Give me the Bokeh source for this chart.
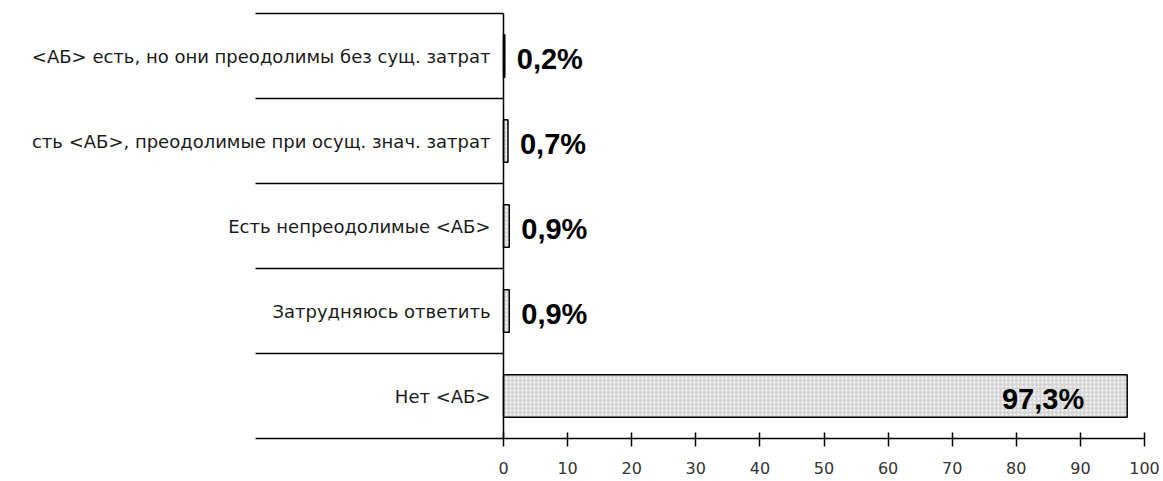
from bokeh.plotting import figure
from bokeh.models import Range1d, FixedTicker, ColumnDataSource
from bokeh.core.properties import value
from bokeh.embed import file_html
from bokeh.resources import INLINE

# ---- data ----
categories = [
    "<АБ> есть, но они преодолимы без сущ. затрат",
    "сть <АБ>, преодолимые при осущ. знач. затрат",
    "Есть непреодолимые <АБ>",
    "Затрудняюсь ответить",
    "Нет <АБ>",
]
values = [0.2, 0.7, 0.9, 0.9, 97.3]
value_labels = ["0,2%", "0,7%", "0,9%", "0,9%", "97,3%"]
x_ticks = [0, 10, 20, 30, 40, 50, 60, 70, 80, 90, 100]

# ---- geometry ----
W, H = 1163, 481
ZERO_PX = 503.0          # canvas px of x=0
PPU = 6.41               # px per unit
LINE_LEFT_PX = 255.0     # left end of category lines
TOP_PAD_PX = 13.0
BOTTOM_PANEL = 43
n = len(categories)
frame_h = H - BOTTOM_PANEL
row_px = (frame_h - TOP_PAD_PX) / n

x_start = -ZERO_PX / PPU
x_end = (W - ZERO_PX) / PPU
x_line_left = (LINE_LEFT_PX - ZERO_PX) / PPU
y_bottom = -0.5
y_top = n - 0.5 + TOP_PAD_PX / row_px

FONT = "Liberation Sans"
WIDE = "DejaVu Sans"

ypos = [n - 1 - i for i in range(n)]

p = figure(width=W, height=H, output_backend="svg", toolbar_location=None,
           x_range=Range1d(x_start, x_end), y_range=Range1d(y_bottom, y_top),
           min_border_left=0, min_border_right=0, min_border_top=0,
           min_border_bottom=BOTTOM_PANEL)
p.outline_line_color = None
p.background_fill_color = "white"
p.border_fill_color = "white"
p.grid.visible = False
p.yaxis.visible = False

xa = p.xaxis[0]
xa.ticker = FixedTicker(ticks=x_ticks)
xa.bounds = (x_line_left, 100)
xa.axis_line_color = "#000000"
xa.axis_line_width = 1.5
xa.major_tick_line_color = "#000000"
xa.major_tick_line_width = 1.5
xa.major_tick_in = 6
xa.major_tick_out = 8
xa.minor_tick_line_color = None
xa.major_label_standoff = 15
xa.major_label_text_font = WIDE
xa.major_label_text_font_size = "16px"
xa.major_label_text_color = "#333333"

# bars
src = ColumnDataSource(dict(y=ypos, v=values, lab=value_labels, cat=categories))
p.hbar(y="y", left=0, right="v", height=0.5, source=src,
       fill_color="#d6d6d6", hatch_pattern="dot", hatch_color="white",
       hatch_scale=4, hatch_weight=1.3,
       line_color="#000000", line_width=1.5)

# category separator lines (left of the value axis)
bounds_y = [n - 0.5 - i for i in range(n)]
p.segment(x0=[x_line_left] * n, y0=bounds_y, x1=[0] * n, y1=bounds_y,
          line_color="#000000", line_width=1.5)
# vertical value-axis line
p.segment(x0=[0], y0=[y_bottom], x1=[0], y1=[n - 0.5],
          line_color="#000000", line_width=1.5)

# category labels
p.text(x=0, y="y", text="cat", source=src, x_offset=-13,
       text_align="right", text_baseline="middle",
       text_font=value(WIDE), text_font_size="18px", text_color="#1a1a1a")

# value labels
small = [i for i in range(n) if values[i] < 50]
big = [i for i in range(n) if values[i] >= 50]
src_small = ColumnDataSource(dict(y=[ypos[i] for i in small], v=[values[i] for i in small],
                                  lab=[value_labels[i] for i in small]))
src_big = ColumnDataSource(dict(y=[ypos[i] for i in big], v=[values[i] for i in big],
                                lab=[value_labels[i] for i in big]))
p.text(x="v", y="y", text="lab", source=src_small, x_offset=12, y_offset=3,
       text_align="left", text_baseline="middle",
       text_font=value(FONT), text_font_size="29px", text_font_style="bold",
       text_color="#000000")
p.text(x="v", y="y", text="lab", source=src_big, x_offset=-43, y_offset=3,
       text_align="right", text_baseline="middle",
       text_font=value(FONT), text_font_size="29px", text_font_style="bold",
       text_color="#000000")

open("out.html", "w").write(file_html(p, INLINE))
